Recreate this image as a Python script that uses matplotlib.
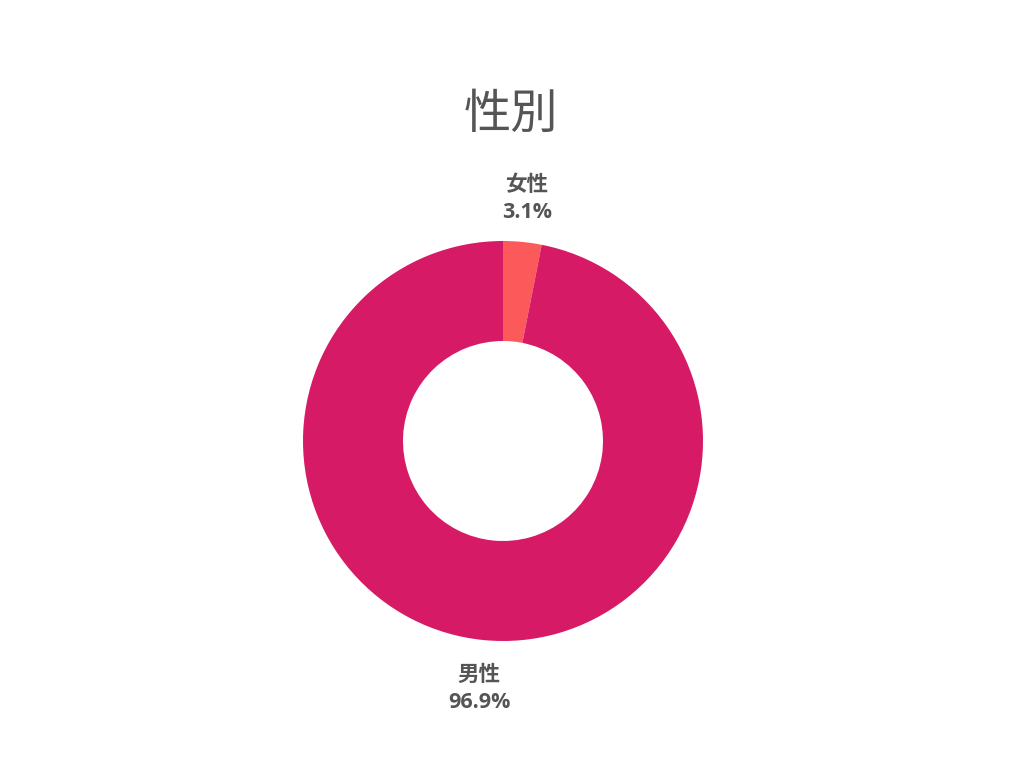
import numpy as np
from matplotlib import pyplot as plt

labels = ["女性", "男性"]
values = [3.1, 96.9]
colors = ["#FC5A5A", "#D61A66"]

fonts = ["Open Sans", "Noto Sans CJK JP", "DejaVu Sans"]
plt.rcParams['font.family'] = fonts

fig = plt.figure(figsize=(10.24, 7.68), dpi=100)
ax = fig.add_axes([0, 0, 1, 1])

cx, cy, r = 503, 768 - 441, 200
wedges, _ = ax.pie(values, colors=colors, startangle=90, counterclock=False,
                   radius=r, center=(cx, cy),
                   wedgeprops=dict(width=r * 0.5, linewidth=0))
ax.set_xlim(0, 1024)
ax.set_ylim(0, 768)
ax.set_aspect('equal')
ax.axis('off')

# labels outside each slice
for w, lab, v in zip(wedges, labels, values):
    ang = np.deg2rad((w.theta1 + w.theta2) / 2)
    x = cx + 1.23 * r * np.cos(ang)
    y = cy + 1.23 * r * np.sin(ang) - 3
    ax.text(x, y, f"{lab}\n{v:.1f}%", ha="center", va="center",
            fontsize=15.5, fontweight="bold", color="#555555",
            linespacing=1.4)

fig.text(0.499, 1 - 115 / 768, "性別", ha="center", va="center",
         fontsize=34, color="#555555")

plt.savefig("out.png", dpi=100)
